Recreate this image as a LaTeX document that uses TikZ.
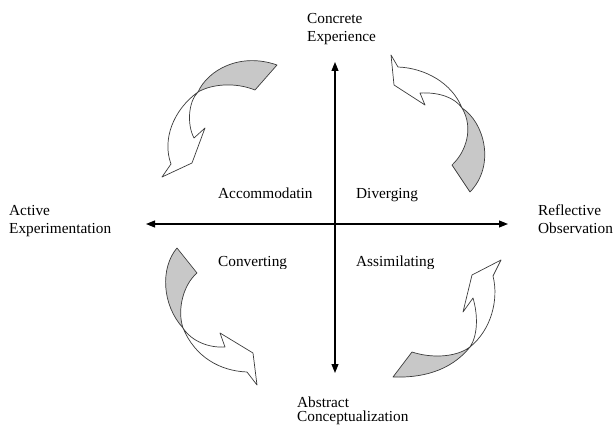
\documentclass[tikz,border=0pt]{standalone}
\usepackage{fontspec}
\setmainfont{Liberation Serif}
\usetikzlibrary{arrows.meta}
\definecolor{bandgray}{RGB}{200,200,200}
\definecolor{outl}{RGB}{60,60,60}
\begin{document}
\begin{tikzpicture}[x=1pt,y=-1pt,
  lbl/.style={anchor=base west,inner sep=0pt,font=\fontsize{15.3}{19}\selectfont},
  axis/.style={line width=1.1pt,{Triangle[length=9pt,width=7pt]}-{Triangle[length=9pt,width=7pt]}},
  band/.style={fill=bandgray,draw=outl,line width=0.7pt,line join=round},
  body/.style={fill=white,draw=outl,line width=0.7pt,line join=round}]
\useasboundingbox (0,0) rectangle (614,425);
\clip (0,0) rectangle (614,425);

% axes
\coordinate (top) at (335,62);
\coordinate (bot) at (335,373);
\coordinate (lft) at (146,224);
\coordinate (rgt) at (508,224);
\draw[axis] (top) -- (bot);
\draw[axis] (lft) -- (rgt);

% top-left curved arrow
\coordinate (x1) at (198,92);
\path[band] (x1) .. controls (208,70) and (240,52) .. (277,65) -- (255,90)
  .. controls (235,82) and (212,84) .. (x1) -- cycle;
\path[body] (x1) .. controls (188,102) and (187,125) .. (194,138) -- (205,128)
  -- (192,163) -- (162,177) -- (171,164) .. controls (162,140) and (173,110) .. (x1) -- cycle;

% top-right curved arrow
\coordinate (x2) at (462,108);
\path[body] (x2) .. controls (452,83) and (425,68) .. (398,67) -- (391,55)
  -- (394,85) -- (425,105) -- (420,93) .. controls (440,92) and (455,98) .. (x2) -- cycle;
\path[band] (x2) .. controls (484,122) and (496,165) .. (470,192) -- (452,165)
  .. controls (466,152) and (474,128) .. (x2) -- cycle;

% bottom-left curved arrow
\coordinate (x3) at (183,328);
\path[band] (177,248) -- (197,273) .. controls (183,285) and (177,310) .. (x3)
  .. controls (162,305) and (160,268) .. (177,248) -- cycle;
\path[body] (x3) .. controls (192,342) and (210,348) .. (225,347) -- (220,333)
  -- (253,353) -- (257,385) -- (247,372) .. controls (220,371) and (195,357) .. (x3) -- cycle;

% bottom-right curved arrow
\coordinate (x4) at (470,347);
\path[band] (412,352) .. controls (430,358) and (455,358) .. (x4)
  .. controls (450,372) and (420,378) .. (393,377) -- cycle;
\path[body] (x4) .. controls (491,330) and (499,300) .. (493,276) -- (501,260)
  -- (472,275) -- (463,312) -- (473,298) .. controls (478,315) and (478,335) .. (x4) -- cycle;

% labels
\node[lbl] (ce1) at (307,24) {Concrete};
\node[lbl] (ce2) at (307,42) {Experience};
\node[lbl] (ae1) at (9,216) {Active};
\node[lbl] (ae2) at (9,234) {Experimentation};
\node[lbl] (ro1) at (538,216) {Reflective};
\node[lbl] (ro2) at (538,234) {Observation};
\node[lbl] (ac1) at (297,407) {Abstract};
\node[lbl] (ac2) at (297,421) {Conceptualization};
\node[lbl] (acc) at (218,199) {Accommodatin};
\node[lbl] (div) at (356,199) {Diverging};
\begin{scope}
\clip (200,240) rectangle (460,269);
\node[lbl] (con) at (218,267) {Converting};
\node[lbl] (ass) at (356,267) {Assimilating};
\end{scope}
\end{tikzpicture}
\end{document}
